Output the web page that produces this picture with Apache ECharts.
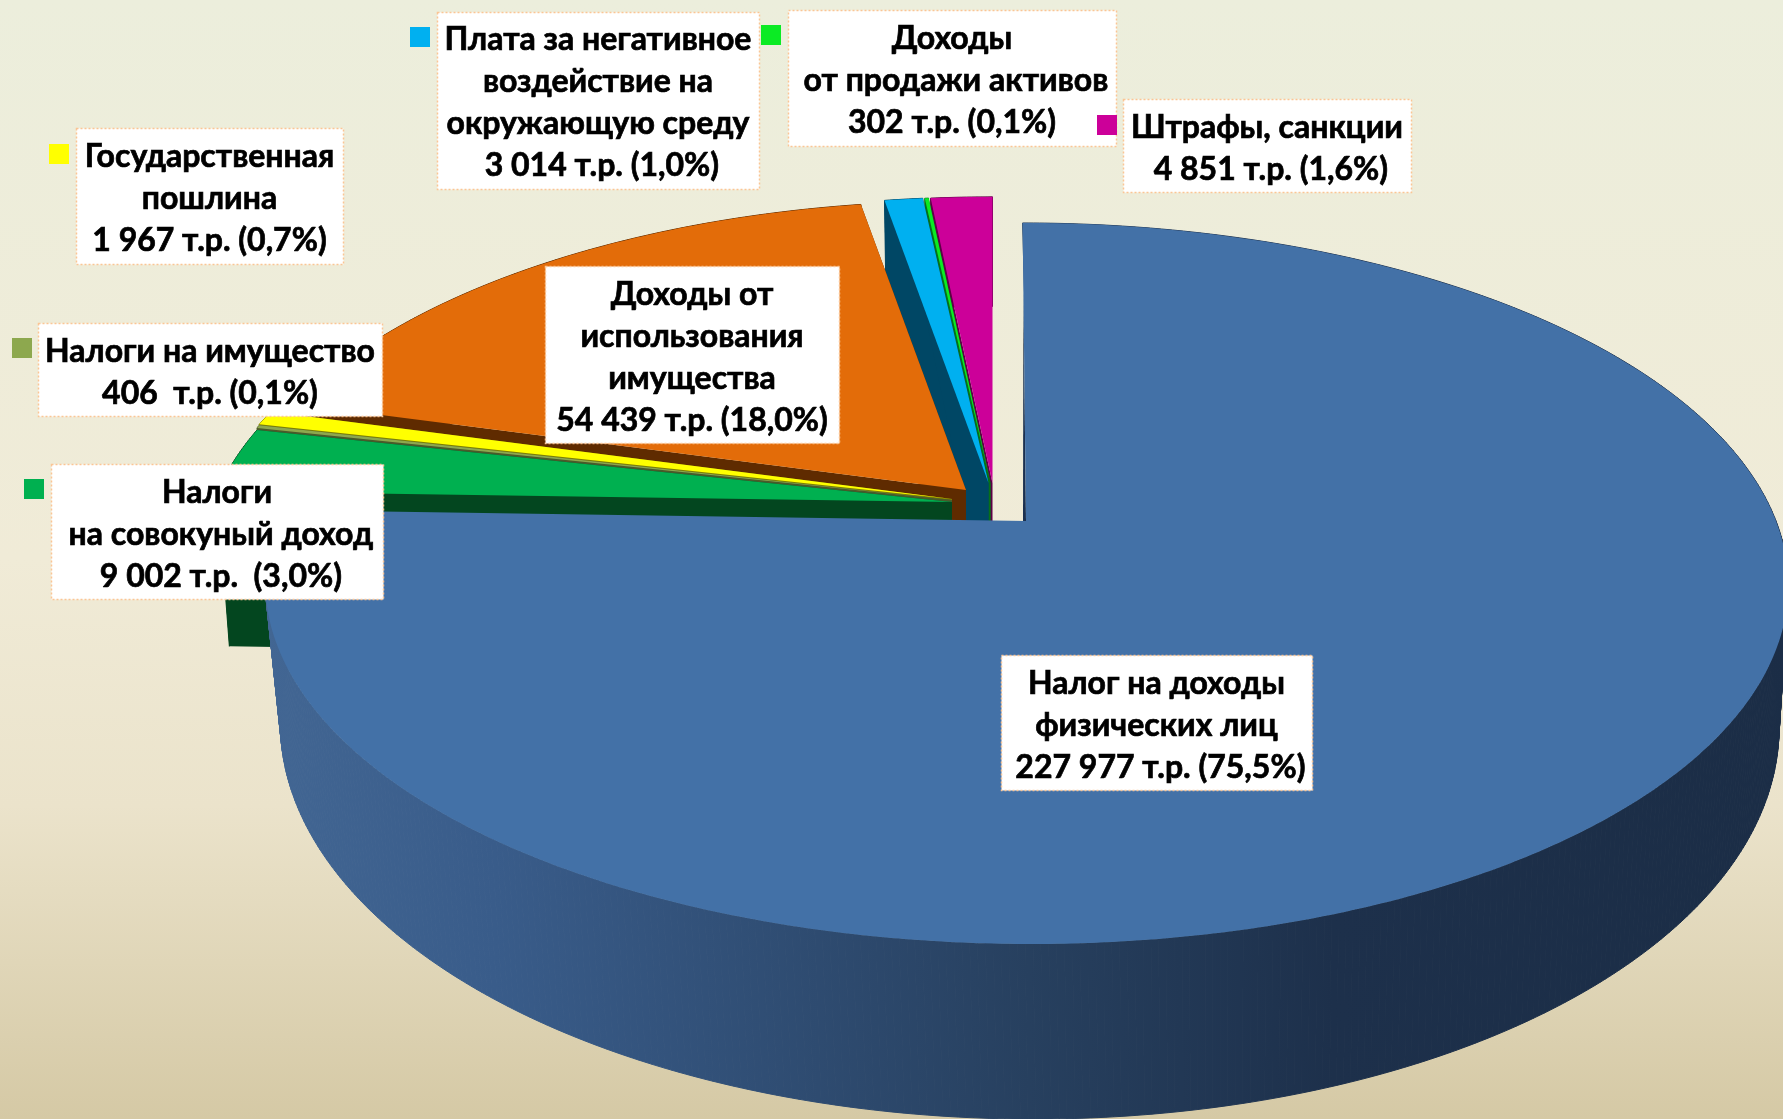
<!DOCTYPE html>
<html>
<head>
<meta charset="utf-8">
<style>html,body{margin:0;padding:0;overflow:hidden;background:#ECEEDC}#c{width:1783px;height:1119px}</style>
<script src="https://cdn.jsdelivr.net/npm/echarts@6/dist/echarts.min.js"></script>
</head>
<body>
<div id="c"></div>
<script>
// ---- data ----
const categories = ['Налог на доходы физических лиц','Налоги на совокупный доход','Налоги на имущество','Государственная пошлина','Доходы от использования имущества','Плата за негативное воздействие на окружающую среду','Доходы от продажи активов','Штрафы, санкции'];
const values = [227977, 9002, 406, 1967, 54439, 3014, 302, 4851];
const labelLines = [
  ['Налог на доходы','физических лиц',' 227 977 т.р. (75,5%)'],
  ['Налоги',' на совокуный доход',' 9 002 т.р.  (3,0%)'],
  ['Налоги на имущество','406  т.р. (0,1%)'],
  ['Государственная','пошлина','1 967 т.р. (0,7%)'],
  ['Доходы от','использования','имущества','54 439 т.р. (18,0%)'],
  ['Плата за негативное','воздействие на','окружающую среду',' 3 014 т.р. (1,0%)'],
  ['Доходы',' от продажи активов','302 т.р. (0,1%)'],
  ['Штрафы, санкции',' 4 851 т.р. (1,6%)']
];
// ---- styles and layout ----
const topColors  = ['#4371A7','#00B050','#8DA84E','#FFFF00','#E36C09','#00B0F0','#0BEB24','#CC0099'];
const wallColors = ['#1B2D46','#03461F','#4A5A2A','#7F7F00','#5F2B00','#004765','#06701A','#5E0046'];
const legendColors = [null,'#00B050','#8DA84E','#FFFF00',null,'#00B0F0','#0BEB24','#CC0099'];
// slice offset in px [dx, dy], radius factor, wall depth
const apexOffset = [[0,0],[-74,-19],[-74,-21],[-74,-22],[-60,-31],[-37.5,-38],[-35.5,-38],[-33.5,-38]];
const sliceScale = [1,0.985,0.985,0.985,0.97,0.96,0.96,0.96];
const wallDepth  = [136,156,150,150,136,136,136,136];
const drawOrder  = [7,6,5,4,3,2,1,0];
// label boxes [x0,y0,x1,y1], text offset [dx,dy]
const labelBoxes = [[1001,655,1312,790],[51,464,383,599],[38,323,382,416],[76,128,343,264],[545,266,839,443],[437,12,759,189],[788,10,1116,146],[1123,99,1411,192]];
const labelShift = [[0,3],[0,3],[0,3],[0,3],[0,3],[0,2.5],[0,3],[0,3]];
const legendKeys = [null,[24,479],[12,338],[49,144],null,[410,27],[761,25],[1097,115]];
const FONT = 'Lato, "Noto Sans", sans-serif';

const total = values.reduce((a,b)=>a+b,0);
const starts = []; values.reduce((a,b,i)=>{starts[i]=a;return a+b;},0);

const APEX = [1026,521], RX = 750, RY = 349.7, K = 0.1733, SHEAR = 4;
const BAPEX_DX = 3, BRX = 738, BRY = 382;
const POLAR_C = [500,500], POLAR_R = 400;
const wallGradient = {type:'linear',x:267,y:0,x2:1790,y2:0,global:true,colorStops:[
  {offset:0,color:'#426693'},{offset:.15,color:'#395C8A'},{offset:.5,color:'#27405F'},{offset:.7,color:'#1D304B'},{offset:1,color:'#1B2D46'}]};

function project(u,v,ax,ay,rx,ry,shear){
  const w = 1 - K*v;
  return [ax + rx*u/w + shear*v/w, ay + ry*v/w];
}
function renderSlice(params, api){
  const i = api.value(2);
  const unit = a => { const p = api.coord([1,a]); return [(p[0]-POLAR_C[0])/POLAR_R,(p[1]-POLAR_C[1])/POLAR_R]; };
  const a0 = api.value(0), a1 = api.value(1);
  const ax = APEX[0]+apexOffset[i][0], ay = APEX[1]+apexOffset[i][1], s = sliceScale[i], d = wallDepth[i];
  const sh = i===0 ? SHEAR : 0;
  const bdx = i===0 ? BAPEX_DX : 0;
  const top = (u,v)=>project(u,v,ax,ay,RX*s,RY*s,sh);
  const bot = (u,v)=>project(u,v,ax+bdx,ay+d,BRX*s,BRY*s,sh);
  const n = Math.max(2,Math.ceil((a1-a0)/total*720));
  const arc = [];
  for(let j=0;j<=n;j++) arc.push(unit(a0+(a1-a0)*j/n));
  const topArc = arc.map(p=>top(p[0],p[1]));
  const botArc = arc.map(p=>bot(p[0],p[1]));
  const ta = top(0,0), ba = bot(0,0);
  const wallFill = i===0 ? wallGradient : wallColors[i];
  const kids = [];
  const poly = (pts,fill,seam)=>kids.push({type:'polygon',shape:{points:pts},style:seam?{fill:fill,stroke:fill,lineWidth:1}:{fill:fill}});
  // outer wall as extruded strips, two cut faces, then the top face
  for(let j=0;j<n;j++) poly([topArc[j],topArc[j+1],botArc[j+1],botArc[j]],wallFill,true);
  if(i!==0){
    poly([ta,topArc[0],botArc[0],ba],wallColors[i]);
    poly([ta,topArc[n],botArc[n],ba],wallColors[i]);
  } else {
    const p = unit(a0);
    const q = top(p[0]*.73,p[1]*.73);
    poly([ta,q,[ta[0]-3,ta[1]]],'#1B3050');
  }
  poly([ta].concat(topArc),topColors[i]);
  return {type:'group',children:kids};
}

const seriesData = drawOrder.map(i=>({name:categories[i],value:[starts[i],starts[i]+values[i],i]}));

const graphics = [];
labelBoxes.forEach((b,i)=>{
  graphics.push({type:'rect',silent:true,z:10,shape:{x:b[0]+.5,y:b[1]+.5,width:b[2]-b[0],height:b[3]-b[1]},
    style:{fill:'#fff',stroke:'#FBC595',lineWidth:1.5,lineDash:[2,2]}});
  graphics.push({type:'text',silent:true,z:11,x:(b[0]+b[2])/2+labelShift[i][0],y:(b[1]+b[3])/2+labelShift[i][1],
    style:{text:labelLines[i].join('\n'),font:'bold 32px '+FONT,fill:'#000',stroke:'#000',lineWidth:0.7,align:'center',verticalAlign:'middle',lineHeight:42,textAlign:'center',textVerticalAlign:'middle'}});
  if(legendKeys[i]) graphics.push({type:'rect',silent:true,z:11,shape:{x:legendKeys[i][0],y:legendKeys[i][1],width:20,height:20},style:{fill:legendColors[i]}});
});

const chart = echarts.init(document.getElementById('c'),null,{renderer:'canvas'});
chart.setOption({
  animation:false,
  backgroundColor:{type:'linear',x:0,y:0,x2:0,y2:1,colorStops:[{offset:0,color:'#ECEEDC'},{offset:.5,color:'#F0EBD7'},{offset:.72,color:'#EBE3CB'},{offset:1,color:'#D5C9A5'}]},
  polar:{center:POLAR_C,radius:POLAR_R},
  angleAxis:{type:'value',min:0,max:total,startAngle:90,clockwise:true,show:false},
  radiusAxis:{type:'value',min:0,max:1,show:false},
  graphic:{elements:graphics},
  series:[{type:'custom',coordinateSystem:'polar',silent:true,clip:false,renderItem:renderSlice,
    encode:{angle:0},dimensions:['start','end','index'],data:seriesData}]
});
</script>
</body>
</html>
